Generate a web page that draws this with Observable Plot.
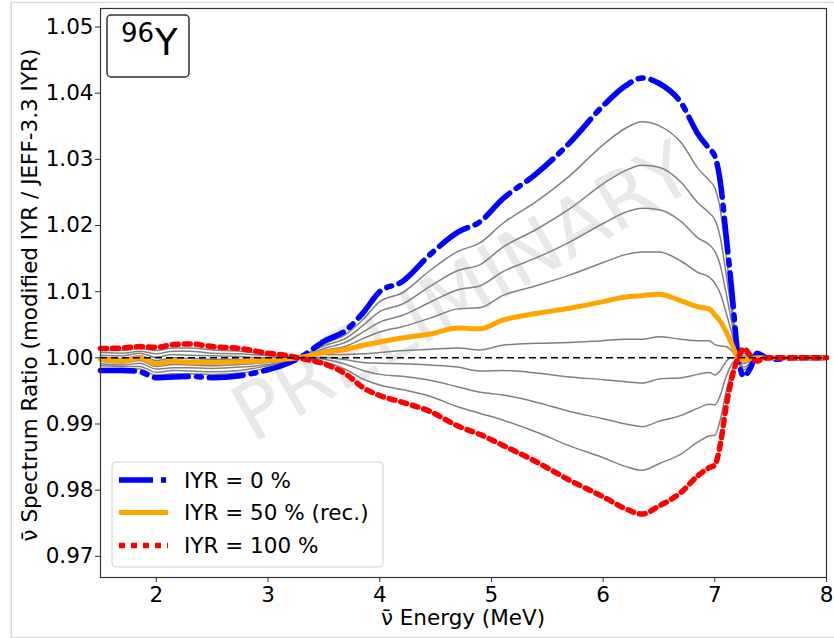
<!DOCTYPE html>
<html>
<head>
<meta charset="utf-8">
<script src="https://cdn.jsdelivr.net/npm/d3@7"></script>
<script src="https://cdn.jsdelivr.net/npm/@observablehq/plot@0.6"></script>
<style>
  body { margin: 0; background: #fff; }
  #wrap { position: relative; width: 834px; height: 638px; overflow: hidden; font-family: "DejaVu Sans", sans-serif; }
  #page { position: absolute; left: 11px; top: 2px; width: 840px; height: 634px; border: 1px solid #d6d6d6; box-shadow: -1px 0 2px #e0e0e0; }
  #chart { position: absolute; left: 0; top: 0; }
</style>
</head>
<body>
<div id="wrap">
  <div id="page"></div>
  <div id="chart"></div>
</div>
<script>
// ---------------- data ----------------
const energy = [1.5, 1.7, 1.85, 2.0, 2.15, 2.3, 2.5, 2.75, 3.0, 3.15, 3.3, 3.5, 3.7, 3.85, 4.0, 4.2, 4.45, 4.7, 4.9, 5.1,
                5.4, 5.7, 6.0, 6.2, 6.35, 6.5, 6.7, 6.85, 6.95, 7.0, 7.05, 7.1, 7.15, 7.21, 7.26, 7.32, 7.38, 7.45, 7.55, 7.7, 8.0];

const iyr0 = [0.9981, 0.9981, 0.9979, 0.9970, 0.9971, 0.9972, 0.9970, 0.9973, 0.9982, 0.9990, 1.0002, 1.0025, 1.0042, 1.0068, 1.0100, 1.0115, 1.0156, 1.0190, 1.0206, 1.0240,
              1.0278, 1.0325, 1.0381, 1.0411, 1.0423, 1.0415, 1.0385, 1.0338, 1.0316, 1.0305, 1.0265, 1.0187, 1.0105, 1.0000, 0.9972, 0.9985, 1.0007, 1.0001, 0.9998, 1.0000, 1.0000];
const iyr10 = [0.9984, 0.9984, 0.9983, 0.9974, 0.9976, 0.9976, 0.9975, 0.9977, 0.9985, 0.9992, 1.0002, 1.0021, 1.0036, 1.0058, 1.0085, 1.0098, 1.0132, 1.0161, 1.0174, 1.0203,
               1.0236, 1.0275, 1.0322, 1.0347, 1.0357, 1.0351, 1.0325, 1.0286, 1.0268, 1.0257, 1.0223, 1.0158, 1.0088, 1.0000, 0.9977, 0.9988, 1.0006, 1.0001, 0.9998, 1.0000, 1.0000];
const iyr20 = [0.9988, 0.9987, 0.9987, 0.9978, 0.9981, 0.9980, 0.9979, 0.9981, 0.9988, 0.9993, 1.0002, 1.0018, 1.0030, 1.0049, 1.0070, 1.0081, 1.0108, 1.0132, 1.0141, 1.0167,
               1.0194, 1.0225, 1.0263, 1.0283, 1.0291, 1.0288, 1.0265, 1.0234, 1.0219, 1.0209, 1.0181, 1.0128, 1.0072, 1.0000, 0.9982, 0.9991, 1.0004, 1.0000, 0.9999, 1.0000, 1.0000];
const iyr30 = [0.9991, 0.9989, 0.9992, 0.9983, 0.9985, 0.9985, 0.9984, 0.9986, 0.9990, 0.9995, 1.0001, 1.0014, 1.0024, 1.0039, 1.0054, 1.0064, 1.0084, 1.0103, 1.0109, 1.0130,
               1.0151, 1.0175, 1.0203, 1.0220, 1.0226, 1.0224, 1.0206, 1.0181, 1.0171, 1.0161, 1.0139, 1.0099, 1.0055, 1.0000, 0.9986, 0.9993, 1.0003, 1.0000, 0.9999, 1.0000, 1.0000];
const iyr40 = [0.9995, 0.9992, 0.9996, 0.9987, 0.9990, 0.9989, 0.9988, 0.9990, 0.9993, 0.9996, 1.0001, 1.0011, 1.0018, 1.0029, 1.0039, 1.0047, 1.0060, 1.0074, 1.0076, 1.0094,
               1.0109, 1.0125, 1.0144, 1.0156, 1.0160, 1.0160, 1.0146, 1.0129, 1.0122, 1.0113, 1.0097, 1.0069, 1.0039, 1.0000, 0.9991, 0.9996, 1.0001, 1.0000, 1.0000, 1.0000, 1.0000];
const iyr50 = [0.9998, 0.9995, 1.0000, 0.9991, 0.9995, 0.9993, 0.9993, 0.9994, 0.9996, 0.9998, 1.0001, 1.0008, 1.0013, 1.0019, 1.0024, 1.0030, 1.0036, 1.0045, 1.0044, 1.0057,
               1.0067, 1.0075, 1.0085, 1.0092, 1.0094, 1.0096, 1.0086, 1.0077, 1.0074, 1.0065, 1.0055, 1.0040, 1.0022, 1.0000, 0.9996, 0.9999, 1.0000, 1.0000, 1.0000, 1.0000, 1.0000];
const iyr60 = [1.0001, 0.9999, 1.0003, 0.9996, 1.0000, 0.9999, 0.9998, 0.9998, 0.9998, 0.9999, 1.0001, 1.0005, 1.0005, 1.0006, 1.0008, 1.0011, 1.0013, 1.0015, 1.0012, 1.0019,
               1.0022, 1.0023, 1.0026, 1.0028, 1.0028, 1.0032, 1.0028, 1.0026, 1.0026, 1.0020, 1.0018, 1.0017, 1.0011, 1.0000, 1.0000, 1.0000, 0.9999, 1.0000, 1.0000, 1.0000, 1.0000];
const iyr70 = [1.0004, 1.0003, 1.0007, 1.0001, 1.0005, 1.0004, 1.0003, 1.0002, 1.0000, 1.0000, 1.0000, 1.0001, 0.9997, 0.9993, 0.9992, 0.9991, 0.9989, 0.9986, 0.9980, 0.9981,
               0.9977, 0.9971, 0.9967, 0.9964, 0.9962, 0.9968, 0.9970, 0.9975, 0.9978, 0.9974, 0.9981, 0.9994, 1.0000, 1.0000, 1.0003, 1.0001, 0.9998, 1.0000, 1.0000, 1.0000, 1.0000];
const iyr80 = [1.0008, 1.0007, 1.0010, 1.0006, 1.0010, 1.0010, 1.0007, 1.0006, 1.0003, 1.0001, 1.0000, 0.9998, 0.9990, 0.9981, 0.9975, 0.9972, 0.9966, 0.9956, 0.9948, 0.9944,
               0.9933, 0.9919, 0.9908, 0.9900, 0.9896, 0.9904, 0.9913, 0.9924, 0.9930, 0.9929, 0.9944, 0.9971, 0.9990, 1.0000, 1.0007, 1.0001, 0.9997, 1.0000, 1.0000, 1.0000, 1.0000];
const iyr90 = [1.0011, 1.0011, 1.0014, 1.0011, 1.0015, 1.0015, 1.0012, 1.0010, 1.0005, 1.0003, 0.9999, 0.9994, 0.9982, 0.9968, 0.9959, 0.9952, 0.9942, 0.9926, 0.9916, 0.9906,
               0.9888, 0.9867, 0.9849, 0.9836, 0.9830, 0.9840, 0.9855, 0.9873, 0.9882, 0.9883, 0.9907, 0.9948, 0.9979, 1.0000, 1.0010, 1.0002, 0.9996, 1.0000, 1.0000, 1.0000, 1.0000];
const iyr100 = [1.0014, 1.0015, 1.0017, 1.0016, 1.0020, 1.0021, 1.0017, 1.0014, 1.0007, 1.0004, 0.9999, 0.9991, 0.9975, 0.9955, 0.9943, 0.9933, 0.9919, 0.9897, 0.9884, 0.9868,
                0.9843, 0.9815, 0.9790, 0.9772, 0.9764, 0.9776, 0.9797, 0.9822, 0.9834, 0.9838, 0.9870, 0.9925, 0.9968, 1.0000, 1.0014, 1.0003, 0.9995, 1.0000, 1.0000, 1.0000, 1.0000];

const xTicks = [2, 3, 4, 5, 6, 7, 8];
const yTicks = [0.97, 0.98, 0.99, 1.00, 1.01, 1.02, 1.03, 1.04, 1.05];
const legendLabels = ["IYR = 0 %", "IYR = 50 % (rec.)", "IYR = 100 %"];
const xLabel = "\u03BD\u0304 Energy (MeV)";
const yLabel = "\u03BD\u0304 Spectrum Ratio (modified IYR / JEFF-3.3 IYR)";
const watermark = "PRELIMINARY";
const massNumber = "96", element = "Y";

// ---------------- build tables ----------------
function toRows(values, iyr) { return energy.map((e, i) => ({energy: e, ratio: values[i], iyr})); }
const grayRows = [
  ...toRows(iyr10, 10), ...toRows(iyr20, 20), ...toRows(iyr30, 30), ...toRows(iyr40, 40),
  ...toRows(iyr60, 60), ...toRows(iyr70, 70), ...toRows(iyr80, 80), ...toRows(iyr90, 90)
];
const blueRows = toRows(iyr0, 0);
const orangeRows = toRows(iyr50, 50);
const redRows = toRows(iyr100, 100);

const W = 834, H = 638, ML = 100, MR = 8, MT = 8, MB = 61;
const blueDash = "34,8,5,8", redDash = "6,6";
const FS = 21.5;

const chart = Plot.plot({
  width: W, height: H,
  marginLeft: ML, marginRight: MR, marginTop: MT, marginBottom: MB,
  style: {fontFamily: "DejaVu Sans", fontSize: FS + "px", color: "#000", background: "transparent", overflow: "visible"},
  x: {domain: [1.5, 8]},
  y: {domain: [0.9668, 1.0528]},
  marks: [
    Plot.text([watermark], {frameAnchor: "middle", text: d => d, rotate: -30, fontSize: 78, fill: "#e8e8e8"}),
    Plot.line(grayRows, {x: "energy", y: "ratio", z: "iyr", stroke: "#808080", strokeWidth: 1.5, curve: "monotone-x"}),
    Plot.line(blueRows, {x: "energy", y: "ratio", stroke: "#0000ff", strokeWidth: 5.5, strokeDasharray: blueDash, curve: "monotone-x"}),
    Plot.line(orangeRows, {x: "energy", y: "ratio", stroke: "#ffa500", strokeWidth: 5, curve: "monotone-x"}),
    Plot.line(redRows, {x: "energy", y: "ratio", stroke: "#ff0000", strokeWidth: 5.5, strokeDasharray: redDash, curve: "monotone-x"}),
    Plot.ruleY([1], {stroke: "#000", strokeWidth: 1.5, strokeDasharray: "7,4"}),
    Plot.frame({stroke: "#333", strokeWidth: 1.2}),
    Plot.axisX({ticks: xTicks, tickFormat: d => String(d), tickSize: 5, tickPadding: 4, label: null, stroke: "#333"}),
    Plot.axisY({ticks: yTicks, tickFormat: d3.format(".2f"), tickSize: 5, tickPadding: 2, label: null, stroke: "#333"})
  ]
});
document.getElementById("chart").appendChild(chart);

// axis titles
const svg = d3.select(chart);
const cx = (ML + (W - MR)) / 2;
svg.append("text").attr("x", cx).attr("y", 625).attr("text-anchor", "middle")
  .attr("font-size", FS).attr("fill", "#000").text(xLabel);
svg.append("text").attr("transform", "translate(37,295) rotate(-90)").attr("text-anchor", "middle")
  .attr("font-size", FS).attr("fill", "#000").text(yLabel);

// nuclide label box
const nb = svg.append("g");
nb.append("rect").attr("x", 107).attr("y", 15).attr("width", 82).attr("height", 62).attr("rx", 4)
  .attr("fill", "#fff").attr("stroke", "#333").attr("stroke-width", 1.5);
const t = nb.append("text").attr("x", 121).attr("y", 42).attr("fill", "#000").attr("text-anchor", "start");
t.append("tspan").attr("font-size", 26).text(massNumber);
t.append("tspan").attr("font-size", 37).attr("dy", 13).attr("dx", 1).text(element);

// legend
const lg = svg.append("g");
lg.append("rect").attr("x", 112).attr("y", 462).attr("width", 271).attr("height", 105).attr("rx", 4)
  .attr("fill", "rgba(255,255,255,0.85)").attr("stroke", "#d0d0d0").attr("stroke-width", 1);
const styles = [
  {stroke: "#0000ff", width: 5.5, dash: blueDash},
  {stroke: "#ffa500", width: 5, dash: null},
  {stroke: "#ff0000", width: 5.5, dash: redDash}
];
const rowsY = [480, 512.5, 545.5];
legendLabels.forEach((lab, i) => {
  const l = lg.append("line").attr("x1", 119).attr("x2", 168).attr("y1", rowsY[i]).attr("y2", rowsY[i])
    .attr("stroke", styles[i].stroke).attr("stroke-width", styles[i].width);
  if (styles[i].dash) l.attr("stroke-dasharray", styles[i].dash);
  lg.append("text").attr("x", 184).attr("y", rowsY[i] + 7.5).attr("font-size", FS).attr("fill", "#000")
    .attr("text-anchor", "start").text(lab);
});
</script>
</body>
</html>
